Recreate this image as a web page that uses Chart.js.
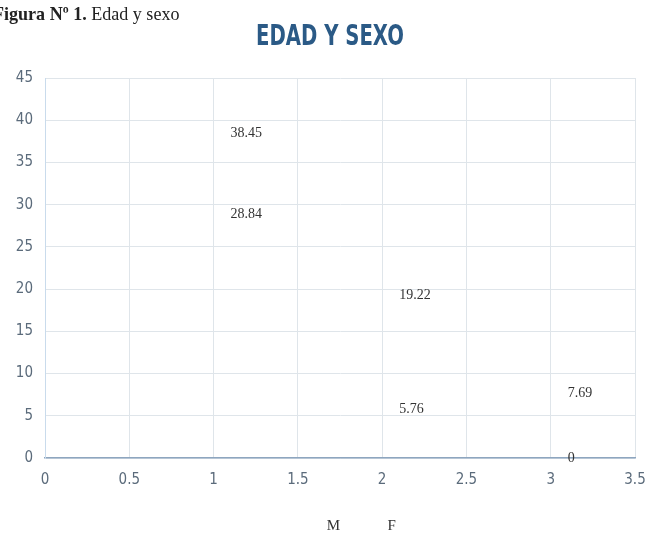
<!DOCTYPE html>
<html>
<head>
<meta charset="utf-8">
<script src="https://cdn.jsdelivr.net/npm/chart.js@4.4.1/dist/chart.umd.min.js"></script>
<style>
  body { margin: 0; background: #fff; }
  #wrap { position: relative; width: 652px; height: 544px; overflow: hidden; }
  #caption { position: absolute; left: -7px; top: 3px; font: 19px "Liberation Serif", serif; color: #222;
             white-space: nowrap; transform: scaleX(0.95); transform-origin: left top; }
  #caption b { font-weight: bold; }
  #title { position: absolute; left: 330px; top: 19px; transform: translateX(-50%) scaleX(0.78);
           font: bold 28px "DejaVu Sans Condensed", "Liberation Sans", sans-serif; color: #2b5a86; white-space: nowrap; }
</style>
</head>
<body>
<div id="wrap">
  <canvas id="scatterChart"></canvas>
  <div id="caption"><b>Figura Nº 1.</b> Edad y sexo</div>
  <div id="title">EDAD Y SEXO</div>
</div>
<script>
// Chart data
const seriesNames = ['M', 'F'];
const xValues = [1, 2, 3];
const mValues = [38.45, 19.22, 7.69];
const fValues = [28.84, 5.76, 0];
const xTickRange = [0, 3.5, 0.5];
const yTickRange = [0, 45, 5];

function toPoints(values) {
    return values.map((v, i) => ({ x: xValues[i], y: v }));
}

// Draws each point's value to the right of it (Excel style data labels)
const valueLabels = {
    id: 'valueLabels',
    afterDatasetsDraw(chart) {
        const ctx = chart.ctx;
        ctx.save();
        ctx.font = '14px "Liberation Serif", serif';
        ctx.fillStyle = '#333';
        ctx.textAlign = 'left';
        ctx.textBaseline = 'middle';
        chart.data.datasets.forEach((ds, di) => {
            const meta = chart.getDatasetMeta(di);
            meta.data.forEach((pt, i) => {
                ctx.fillText(String(ds.data[i].y), pt.x + 17, pt.y);
            });
        });
        ctx.restore();
    }
};

function initScatterChart() {
    const ctx = document.getElementById('scatterChart').getContext('2d');
    const tickFont = { family: '"DejaVu Sans Condensed", "Liberation Sans", sans-serif', size: 15 };
    new Chart(ctx, {
        type: 'scatter',
        data: {
            datasets: [
                { label: seriesNames[0], data: toPoints(mValues), pointRadius: 0,
                  backgroundColor: 'transparent', borderColor: 'transparent' },
                { label: seriesNames[1], data: toPoints(fValues), pointRadius: 0,
                  backgroundColor: 'transparent', borderColor: 'transparent' }
            ]
        },
        options: {
            responsive: true,
            maintainAspectRatio: false,
            animation: false,
            layout: { padding: { left: 0, right: 17, top: 78, bottom: 0 } },
            plugins: {
                title: { display: false },
                tooltip: { enabled: false },
                legend: {
                    position: 'bottom',
                    fullSize: false,
                    labels: {
                        boxWidth: 35,
                        padding: 5,
                        color: '#333',
                        font: { family: '"Liberation Serif", serif', size: 15 }
                    }
                }
            },
            scales: {
                x: {
                    type: 'linear',
                    min: xTickRange[0],
                    max: xTickRange[1],
                    ticks: { stepSize: xTickRange[2], padding: 13, color: '#5b6b7b', font: tickFont, maxRotation: 0,
                             callback: v => String(v) },
                    grid: { color: '#dfe5ea', drawTicks: false },
                    border: { color: '#8ea6bf', width: 1.5 },
                    afterFit(scale) {
                        scale.height = 56;
                        scale.paddingLeft = 0;
                        scale.paddingRight = 0;
                    }
                },
                y: {
                    min: yTickRange[0],
                    max: yTickRange[1],
                    ticks: { stepSize: yTickRange[2], padding: 12, color: '#5b6b7b', font: tickFont },
                    grid: { color: '#dfe5ea', drawTicks: false },
                    border: { color: '#c9dbec', width: 1 },
                    afterFit(scale) { scale.width = 45; }
                }
            }
        },
        plugins: [valueLabels]
    });
}

window.onload = function() {
    initScatterChart();
};
</script>
</body>
</html>
